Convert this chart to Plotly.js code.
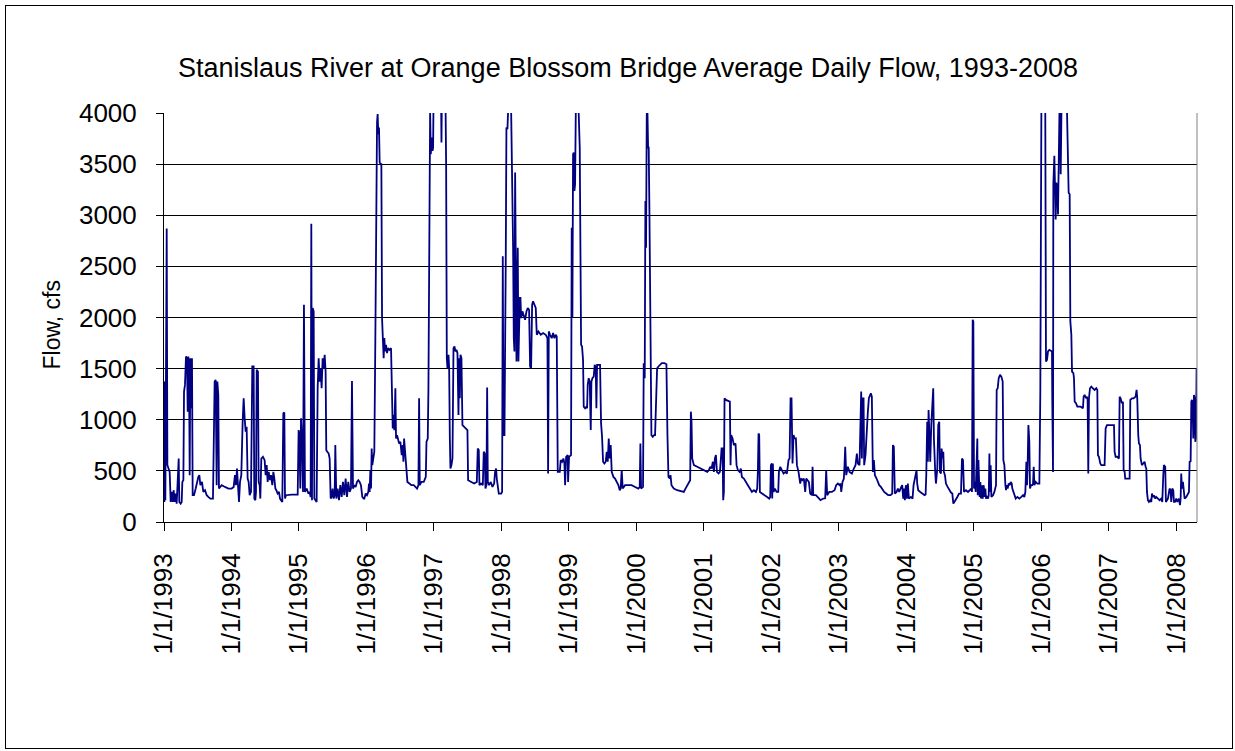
<!DOCTYPE html>
<html>
<head>
<meta charset="utf-8">
<script src="https://cdn.plot.ly/plotly-3.0.1.min.js"></script>
<style>
  html, body { margin: 0; padding: 0; background: #fff; overflow: hidden; }
  #chart { width: 1235px; height: 751px; }
  #frame { position: absolute; left: 5px; top: 5px; width: 1228px; height: 744px;
           box-sizing: border-box; border: 1px solid #000; pointer-events: none; }
</style>
</head>
<body>
<div id="chart"></div>
<div id="frame"></div>
<script>
// Average daily flow (cfs); time as decimal year.
const flow1993_1994 = [[1993.005,196],[1993.010,1373],[1993.020,213],[1993.025,1406],[1993.030,229],[1993.040,2871],[1993.050,556],[1993.069,523],[1993.084,490],[1993.099,196],[1993.114,294],[1993.129,196],[1993.143,311],[1993.158,196],[1993.173,278],[1993.188,180],[1993.203,490],[1993.218,621],[1993.227,196],[1993.247,180],[1993.262,196],[1993.272,392],[1993.287,409],[1993.297,1275],[1993.311,1341],[1993.326,1619],[1993.341,1602],[1993.351,1079],[1993.361,1619],[1993.371,1504],[1993.381,458],[1993.390,1602],[1993.400,1471],[1993.410,1112],[1993.415,1602],[1993.425,262],[1993.445,262],[1993.470,327],[1993.489,392],[1993.509,441],[1993.524,458],[1993.539,360],[1993.563,392],[1993.583,294],[1993.608,311],[1993.633,262],[1993.657,245],[1993.687,229],[1993.726,229],[1993.751,1373],[1993.766,1390],[1993.781,360],[1993.791,1373],[1993.805,1243],[1993.815,327],[1993.855,360],[1993.904,343],[1993.954,327],[1994.003,327],[1994.033,343],[1994.052,458],[1994.067,360],[1994.082,523],[1994.097,327],[1994.112,196],[1994.127,392],[1994.146,458],[1994.166,981],[1994.181,1210],[1994.196,1014],[1994.211,883],[1994.225,932],[1994.240,425],[1994.255,392],[1994.270,262],[1994.290,294],[1994.309,1521],[1994.329,1521],[1994.339,229],[1994.354,213],[1994.364,294],[1994.374,1488],[1994.393,1471],[1994.403,392],[1994.418,360],[1994.428,229],[1994.443,621],[1994.467,638],[1994.492,605]];

const flow1994_1995 = [[1994.507,458],[1994.522,556],[1994.537,392],[1994.552,490],[1994.572,409],[1994.586,458],[1994.606,360],[1994.621,490],[1994.636,425],[1994.651,327],[1994.665,311],[1994.685,278],[1994.705,294],[1994.720,229],[1994.735,213],[1994.754,196],[1994.769,1063],[1994.784,1072],[1994.794,229],[1994.809,262],[1994.893,268],[1994.982,268],[1994.996,899],[1995.006,866],[1995.021,327],[1995.031,1014],[1995.046,817],[1995.061,294],[1995.075,2125],[1995.090,294],[1995.115,327],[1995.140,278],[1995.159,294],[1995.174,245],[1995.184,2917],[1995.194,213],[1995.204,2093],[1995.219,2060],[1995.229,229],[1995.248,213],[1995.263,196],[1995.278,1308],[1995.293,1602],[1995.308,1373],[1995.322,1504],[1995.337,1308],[1995.352,1602],[1995.367,1504],[1995.382,1635],[1995.396,1471],[1995.406,703],[1995.421,687],[1995.441,670],[1995.456,621],[1995.471,229],[1995.485,245],[1995.500,327],[1995.515,229],[1995.530,262],[1995.540,752],[1995.555,229],[1995.574,327],[1995.594,213],[1995.614,360],[1995.634,245],[1995.653,392],[1995.673,262],[1995.693,425],[1995.713,245],[1995.732,392],[1995.752,294],[1995.772,327],[1995.787,1380],[1995.802,327],[1995.821,360],[1995.841,343],[1995.861,392],[1995.881,409],[1995.900,392],[1995.920,360],[1995.940,245],[1995.960,229]];

const flow1996_1997 = [[1995.970,229],[1995.990,278],[1996.009,262],[1996.029,294],[1996.039,376],[1996.049,294],[1996.059,507],[1996.069,327],[1996.079,719],[1996.088,556],[1996.103,654],[1996.118,687],[1996.133,1798],[1996.143,2780],[1996.148,3237],[1996.158,3908],[1996.167,3989],[1996.177,3793],[1996.187,3859],[1996.197,3515],[1996.212,3499],[1996.222,3499],[1996.232,1995],[1996.247,1798],[1996.256,1602],[1996.266,1798],[1996.276,1668],[1996.291,1733],[1996.306,1651],[1996.321,1700],[1996.340,1684],[1996.365,1700],[1996.375,1145],[1996.390,915],[1996.400,1046],[1996.414,899],[1996.429,1308],[1996.439,817],[1996.454,850],[1996.469,817],[1996.484,768],[1996.503,785],[1996.523,654],[1996.538,752],[1996.548,589],[1996.558,817],[1996.573,654],[1996.592,523],[1996.607,392],[1996.637,376],[1996.666,360],[1996.701,360],[1996.731,343],[1996.750,327],[1996.770,360],[1996.780,1210],[1996.790,360],[1996.815,392],[1996.849,392],[1996.879,441],[1996.889,785],[1996.908,817],[1996.918,1308],[1996.928,2452],[1996.933,3303],[1996.943,4022],[1996.953,3597],[1996.963,3760],[1996.978,3630],[1996.987,3662],[1997.002,4800],[1997.096,4800],[1997.111,3711],[1997.126,4800],[1997.160,4800],[1997.180,3499],[1997.190,1602],[1997.200,1504],[1997.215,1635],[1997.225,1504],[1997.235,817],[1997.244,523],[1997.259,556],[1997.274,621],[1997.289,1700],[1997.304,1717],[1997.318,1668],[1997.333,1684],[1997.348,1651],[1997.363,1046],[1997.373,1602],[1997.383,1210],[1997.393,1635],[1997.407,1602],[1997.422,948],[1997.442,932],[1997.467,915]];

const flow1997_1998 = [[1997.496,899],[1997.506,409],[1997.546,392],[1997.595,376],[1997.635,392],[1997.649,719],[1997.664,703],[1997.674,360],[1997.699,376],[1997.724,360],[1997.738,687],[1997.753,670],[1997.763,327],[1997.778,360],[1997.788,1315],[1997.798,392],[1997.817,360],[1997.842,392],[1997.867,343],[1997.892,376],[1997.906,490],[1997.921,523],[1997.931,425],[1997.946,327],[1997.961,278],[1997.995,278],[1998.010,294],[1998.020,2600],[1998.030,850],[1998.045,850],[1998.055,2518],[1998.064,2551],[1998.074,3859],[1998.089,3842],[1998.099,4022],[1998.109,4300],[1998.138,4300],[1998.153,3728],[1998.163,3107],[1998.173,2681],[1998.183,1798],[1998.193,1668],[1998.203,3417],[1998.213,2649],[1998.223,1570],[1998.232,2125],[1998.242,2681],[1998.252,1570],[1998.262,2093],[1998.272,2191],[1998.282,2191],[1998.292,1995],[1998.311,2060],[1998.331,2027],[1998.351,1978],[1998.371,2060],[1998.390,2093],[1998.410,2076],[1998.425,1521],[1998.440,1504],[1998.455,2125],[1998.469,2158],[1998.489,2125],[1998.509,2093],[1998.524,1831],[1998.548,1864],[1998.583,1831],[1998.618,1848],[1998.657,1831],[1998.682,1798],[1998.692,474],[1998.702,1864],[1998.721,1831],[1998.746,1798],[1998.766,1848],[1998.786,1798],[1998.805,1831],[1998.820,1815],[1998.835,490],[1998.865,490],[1998.879,605],[1998.899,589],[1998.919,621],[1998.934,572],[1998.944,360],[1998.959,638],[1998.983,654]];

const flow1999_2000 = [[1998.988,392],[1999.003,638],[1999.032,654],[1999.042,2878],[1999.052,1995],[1999.062,3597],[1999.072,3613],[1999.082,3237],[1999.092,3303],[1999.102,3989],[1999.116,4100],[1999.131,4100],[1999.146,3989],[1999.161,3662],[1999.171,2845],[1999.181,1733],[1999.195,1717],[1999.210,1586],[1999.220,1128],[1999.240,1112],[1999.260,1128],[1999.270,1112],[1999.279,1341],[1999.294,1406],[1999.309,1373],[1999.324,899],[1999.334,1373],[1999.349,1406],[1999.368,1422],[1999.383,1537],[1999.398,1504],[1999.408,1112],[1999.418,1537],[1999.442,1537],[1999.462,1537],[1999.477,965],[1999.492,834],[1999.507,589],[1999.526,572],[1999.546,589],[1999.561,687],[1999.576,589],[1999.591,817],[1999.605,621],[1999.620,752],[1999.635,490],[1999.660,441],[1999.684,425],[1999.709,392],[1999.734,360],[1999.754,311],[1999.768,327],[1999.783,507],[1999.798,327],[1999.833,360],[1999.882,360],[1999.931,360],[1999.981,343],[2000.030,327],[2000.050,343],[2000.060,768],[2000.070,327],[2000.099,343],[2000.109,1553],[2000.124,1406],[2000.134,3139],[2000.144,2681],[2000.154,3989],[2000.164,4022],[2000.174,3662],[2000.183,3662],[2000.193,3074],[2000.208,1602],[2000.223,850],[2000.243,834],[2000.262,850],[2000.277,850],[2000.292,1341],[2000.307,1504],[2000.327,1521],[2000.346,1537],[2000.376,1553],[2000.416,1553],[2000.445,1543],[2000.460,850],[2000.475,441],[2000.495,425]];

const flow2000_2001 = [[2000.505,458],[2000.520,360],[2000.554,327],[2000.604,311],[2000.653,301],[2000.702,294],[2000.727,327],[2000.752,360],[2000.777,392],[2000.796,409],[2000.806,1079],[2000.816,981],[2000.826,621],[2000.851,556],[2000.900,540],[2000.949,523],[2000.999,507],[2001.048,490],[2001.073,507],[2001.093,540],[2001.113,523],[2001.132,589],[2001.147,490],[2001.162,621],[2001.177,654],[2001.192,490],[2001.216,474],[2001.236,490],[2001.251,621],[2001.261,719],[2001.276,719],[2001.285,213],[2001.295,294],[2001.305,1210],[2001.325,1194],[2001.355,1184],[2001.384,1177],[2001.394,556],[2001.404,850],[2001.424,817],[2001.443,752],[2001.468,768],[2001.483,556],[2001.503,507],[2001.527,490],[2001.547,523],[2001.562,441],[2001.592,425],[2001.621,399],[2001.651,360],[2001.681,327],[2001.710,294],[2001.740,311],[2001.770,294],[2001.789,327],[2001.799,490],[2001.809,866],[2001.819,850],[2001.829,294],[2001.858,278],[2001.898,262],[2001.937,245],[2001.967,229],[2001.982,245],[2001.992,556],[2002.007,572]];

const flow2002_2003 = [[2002.012,229],[2002.022,572],[2002.032,294],[2002.051,327],[2002.076,294],[2002.101,294],[2002.111,490],[2002.131,540],[2002.155,507],[2002.180,474],[2002.205,490],[2002.229,474],[2002.254,605],[2002.269,621],[2002.284,1210],[2002.298,1210],[2002.313,572],[2002.328,850],[2002.343,817],[2002.363,817],[2002.378,556],[2002.402,490],[2002.427,376],[2002.442,425],[2002.461,409],[2002.481,425],[2002.501,294],[2002.516,425],[2002.536,409],[2002.555,392],[2002.575,278],[2002.600,262],[2002.610,540],[2002.620,262],[2002.659,262],[2002.699,229],[2002.728,213],[2002.768,229],[2002.797,232],[2002.812,507],[2002.827,262],[2002.857,294],[2002.896,294],[2002.936,311],[2002.960,360],[2002.985,376],[2003.010,360],[2003.025,376],[2003.035,294],[2003.054,392],[2003.074,425],[2003.084,556],[2003.094,736],[2003.109,458],[2003.133,540],[2003.158,490],[2003.193,474],[2003.222,523],[2003.247,556],[2003.267,670],[2003.282,572],[2003.306,556],[2003.321,1275],[2003.331,1275],[2003.341,621],[2003.351,1210],[2003.366,1210],[2003.375,556],[2003.395,654],[2003.415,981],[2003.430,1079],[2003.445,1210],[2003.459,1243],[2003.474,1259],[2003.489,1226],[2003.504,490],[2003.519,605]];

const flow2003_2004 = [[2003.534,458],[2003.559,425],[2003.578,392],[2003.598,360],[2003.623,343],[2003.647,311],[2003.672,294],[2003.702,278],[2003.731,262],[2003.766,262],[2003.791,278],[2003.801,752],[2003.815,736],[2003.830,278],[2003.855,294],[2003.875,327],[2003.894,294],[2003.914,327],[2003.939,360],[2003.954,229],[2003.964,327],[2003.978,213],[2003.993,360],[2004.008,229],[2004.023,376],[2004.038,229],[2004.067,245],[2004.092,229],[2004.107,360],[2004.127,425],[2004.141,490],[2004.151,507],[2004.161,376],[2004.176,311],[2004.206,294],[2004.240,278],[2004.270,262],[2004.285,268],[2004.295,458],[2004.309,981],[2004.319,589],[2004.329,1096],[2004.339,948],[2004.354,589],[2004.369,948],[2004.384,1145],[2004.398,1308],[2004.408,817],[2004.418,523],[2004.428,474],[2004.438,376],[2004.448,425],[2004.458,523],[2004.472,948],[2004.487,981],[2004.497,490],[2004.512,474],[2004.522,719],[2004.537,621],[2004.547,687],[2004.556,490],[2004.571,458],[2004.586,376],[2004.611,343],[2004.635,311],[2004.660,288],[2004.680,278],[2004.695,180],[2004.710,196],[2004.729,213],[2004.754,245],[2004.779,278],[2004.808,278],[2004.823,621],[2004.838,605],[2004.853,294],[2004.882,311],[2004.912,294],[2004.942,311],[2004.961,327],[2004.971,294],[2004.981,1978],[2004.991,1962],[2005.001,327],[2005.011,392],[2005.026,294],[2005.041,556],[2005.050,817]];

const flow2005_2006 = [[2005.056,262],[2005.066,605],[2005.075,425],[2005.085,245],[2005.095,392],[2005.105,229],[2005.120,360],[2005.130,229],[2005.145,360],[2005.155,245],[2005.169,327],[2005.179,229],[2005.194,245],[2005.209,229],[2005.219,262],[2005.229,670],[2005.238,294],[2005.248,556],[2005.258,245],[2005.283,262],[2005.303,294],[2005.318,327],[2005.327,360],[2005.337,1292],[2005.352,1308],[2005.367,1406],[2005.387,1439],[2005.406,1422],[2005.426,1373],[2005.436,605],[2005.451,556],[2005.466,360],[2005.476,311],[2005.485,360],[2005.500,327],[2005.515,376],[2005.530,360],[2005.545,392],[2005.560,376],[2005.569,327],[2005.584,294],[2005.599,262],[2005.619,229],[2005.644,245],[2005.673,229],[2005.703,245],[2005.728,262],[2005.747,245],[2005.762,294],[2005.777,589],[2005.787,360],[2005.797,589],[2005.807,948],[2005.821,785],[2005.831,327],[2005.846,360],[2005.866,360],[2005.876,376],[2005.886,540],[2005.896,360],[2005.915,392],[2005.940,376],[2005.970,376],[2005.984,1275],[2005.994,2780],[2006.004,4800],[2006.054,4800],[2006.068,1570],[2006.083,1586],[2006.098,1668],[2006.118,1684],[2006.143,1668],[2006.157,1668],[2006.162,1145],[2006.172,490],[2006.177,3303],[2006.192,3581],[2006.202,3270],[2006.212,2959],[2006.222,3319],[2006.236,3237],[2006.246,3008],[2006.256,3335],[2006.266,3989],[2006.276,4400],[2006.286,3401],[2006.296,3989],[2006.306,4500],[2006.365,4500],[2006.380,3989],[2006.390,3989],[2006.404,3221],[2006.419,3205],[2006.429,1962],[2006.444,1831],[2006.454,1471],[2006.474,1455],[2006.483,1406],[2006.493,1177],[2006.513,1161],[2006.533,1128],[2006.562,1128]];

const flow2007_2008 = [[2006.582,1128],[2006.616,1112],[2006.626,1226],[2006.641,1243],[2006.661,1210],[2006.675,1226],[2006.685,1194],[2006.695,474],[2006.705,1210],[2006.720,1308],[2006.740,1324],[2006.764,1308],[2006.789,1292],[2006.814,1308],[2006.829,1292],[2006.838,654],[2006.853,638],[2006.873,572],[2006.888,556],[2006.937,556],[2006.952,915],[2006.972,948],[2007.011,948],[2007.061,948],[2007.076,948],[2007.085,687],[2007.100,638],[2007.125,638],[2007.150,621],[2007.160,1226],[2007.174,1210],[2007.194,1161],[2007.209,1177],[2007.219,507],[2007.234,490],[2007.243,425],[2007.283,425],[2007.308,425],[2007.318,1194],[2007.342,1210],[2007.367,1210],[2007.397,1226],[2007.411,1292],[2007.421,1210],[2007.436,850],[2007.446,768],[2007.461,752],[2007.471,621],[2007.490,556],[2007.505,572],[2007.530,589],[2007.545,540],[2007.555,523],[2007.565,294],[2007.579,213],[2007.594,196],[2007.614,213],[2007.629,196],[2007.639,278],[2007.654,245],[2007.668,262],[2007.688,229],[2007.703,245],[2007.728,229],[2007.752,213],[2007.777,229],[2007.792,196],[2007.807,458],[2007.816,556],[2007.836,540],[2007.846,196],[2007.861,213],[2007.876,229],[2007.900,327],[2007.915,311],[2007.925,196],[2007.940,327],[2007.955,311],[2007.965,196],[2007.980,196],[2008.000,229],[2008.014,196],[2008.024,213],[2008.039,229],[2008.054,164],[2008.064,229],[2008.073,474],[2008.083,327],[2008.098,392],[2008.113,262],[2008.123,229],[2008.148,245],[2008.172,278],[2008.187,294],[2008.197,589],[2008.212,595],[2008.222,1177],[2008.231,1194],[2008.241,1145],[2008.251,817],[2008.261,1243],[2008.271,1210],[2008.281,785],[2008.291,817],[2008.300,1504]];

const tickYears = [1993,1994,1995,1996,1997,1998,1999,2000,2001,2002,2003,2004,2005,2006,2007,2008];
const tickLabels = ['1/1/1993','1/1/1994','1/1/1995','1/1/1996','1/1/1997','1/1/1998','1/1/1999','1/1/2000','1/1/2001','1/1/2002','1/1/2003','1/1/2004','1/1/2005','1/1/2006','1/1/2007','1/1/2008'];
const xStart = 1993.0, xEnd = 2008.306;

function toDate(y) {
  const yr = Math.floor(y);
  const s = Date.UTC(yr, 0, 1), e = Date.UTC(yr + 1, 0, 1);
  const d = new Date(s + (y - yr) * (e - s));
  const p = n => String(n).padStart(2, '0');
  return d.getUTCFullYear() + '-' + p(d.getUTCMonth() + 1) + '-' + p(d.getUTCDate()) + ' ' +
         p(d.getUTCHours()) + ':' + p(d.getUTCMinutes());
}

const all = [].concat(flow1993_1994, flow1994_1995, flow1996_1997, flow1997_1998,
                      flow1999_2000, flow2000_2001, flow2002_2003, flow2003_2004,
                      flow2005_2006, flow2007_2008);

const trace = {
  x: all.map(p => toDate(p[0])),
  y: all.map(p => p[1]),
  type: 'scatter', mode: 'lines',
  line: { color: '#000080', width: 1.8 },
  hoverinfo: 'skip'
};

const FONT = 'Liberation Sans, Arial, Helvetica, sans-serif';

const layout = {
  width: 1235, height: 751,
  margin: { l: 164, r: 38, t: 113, b: 229, pad: 0 },
  paper_bgcolor: '#ffffff', plot_bgcolor: '#ffffff',
  font: { family: FONT, color: '#000000' },
  showlegend: false,
  title: {
    text: 'Stanislaus River at Orange Blossom Bridge Average Daily Flow, 1993-2008',
    font: { family: FONT, size: 27, color: '#000' },
    xref: 'container', yref: 'container',
    x: 628 / 1235, xanchor: 'center',
    y: 1 - 68 / 751, yanchor: 'middle'
  },
  xaxis: {
    type: 'date',
    range: [toDate(xStart), toDate(xEnd)],
    tickmode: 'array',
    tickvals: tickYears.map(y => toDate(y)),
    ticktext: tickLabels,
    tickangle: -90,
    ticks: 'outside', ticklen: 8, tickwidth: 1, tickcolor: '#000',
    showline: true, linecolor: '#000', linewidth: 1,
    showgrid: false, zeroline: false,
    tickfont: { family: FONT, size: 26, color: '#000' },
    ticklabelstandoff: 12,
    fixedrange: true
  },
  yaxis: {
    range: [0, 4000],
    tick0: 0, dtick: 500,
    ticks: 'outside', ticklen: 7, tickwidth: 1, tickcolor: '#000',
    showline: true, linecolor: '#000', linewidth: 1,
    showgrid: true, gridcolor: '#000', gridwidth: 1,
    zeroline: false,
    tickfont: { family: FONT, size: 26, color: '#000' },
    ticklabelstandoff: 14,
    fixedrange: true
  },
  shapes: [
    { type: 'line', xref: 'paper', yref: 'paper', x0: 1, x1: 1, y0: 0, y1: 1,
      line: { color: '#808080', width: 1 } }
  ],
  annotations: [
    { text: 'Flow, cfs', xref: 'paper', yref: 'paper', x: 0, y: 0.5,
      xanchor: 'center', yanchor: 'middle', xshift: -113, yshift: -8,
      textangle: -90, showarrow: false,
      font: { family: FONT, size: 23, color: '#000' } }
  ]
};

Plotly.newPlot('chart', [trace], layout, { staticPlot: true, displayModeBar: false });
</script>
</body>
</html>
